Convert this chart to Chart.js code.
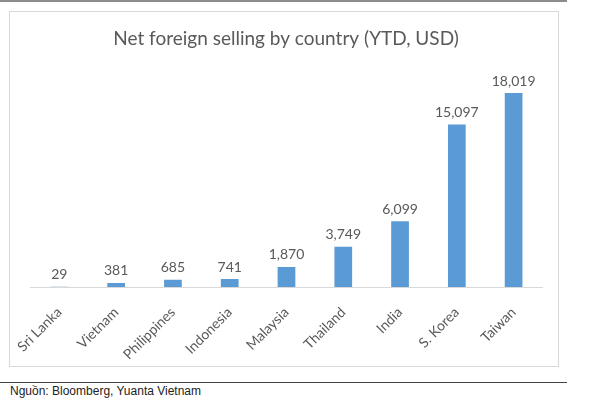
<!DOCTYPE html>
<html>
<head>
<meta charset="utf-8">
<script src="https://cdn.jsdelivr.net/npm/chart.js@4"></script>
<style>
  body { margin: 0; background: #fff; width: 600px; height: 400px; position: relative; overflow: hidden; }
  #topline { position: absolute; left: 0; top: 0; width: 567px; height: 2px; background: #8c8c8c; }
  #box { position: absolute; left: 9px; top: 11px; width: 548px; height: 354px; border: 1px solid #d9d9d9; }
  #botline { position: absolute; left: 0; top: 382px; width: 567px; height: 1px; background: #444; }
  #source { position: absolute; left: 10px; top: 384px; font-family: "Liberation Sans", Arial, sans-serif; font-size: 12px; color: #222; }
</style>
</head>
<body>
<div id="topline"></div>
<div id="box"><canvas id="chart" width="548" height="354"></canvas></div>
<div id="botline"></div>
<div id="source">Nguồn: Bloomberg, Yuanta Vietnam</div>
<script>
var countries = ['Sri Lanka', 'Vietnam', 'Philippines', 'Indonesia', 'Malaysia', 'Thailand', 'India', 'S. Korea', 'Taiwan'];
var selling = [29, 381, 685, 741, 1870, 3749, 6099, 15097, 18019];

// draws the value above each bar
var valueLabels = {
    id: 'valueLabels',
    afterDatasetsDraw: function (chart) {
        var ctx = chart.ctx;
        var meta = chart.getDatasetMeta(0);
        ctx.save();
        ctx.font = '14px Lato, "Open Sans", sans-serif';
        ctx.fillStyle = '#595959';
        ctx.textAlign = 'center';
        ctx.textBaseline = 'bottom';
        meta.data.forEach(function (bar, i) {
            ctx.fillText(selling[i].toLocaleString('en-US'), bar.x, bar.y - 5);
        });
        ctx.restore();
    }
};

new Chart(document.getElementById('chart'), {
    type: 'bar',
    data: {
        labels: countries,
        datasets: [{
            data: selling,
            backgroundColor: '#5b9bd5',
            barPercentage: 0.6,
            categoryPercentage: 0.52
        }]
    },
    options: {
        responsive: false,
        animation: false,
        layout: { padding: { left: 20, right: 16, top: 0, bottom: 0 } },
        plugins: {
            legend: { display: false },
            tooltip: { enabled: false },
            title: {
                display: true,
                text: 'Net foreign selling by country (YTD, USD)',
                color: '#595959',
                font: { family: 'Lato, "Open Sans", sans-serif', size: 19, weight: 'normal' },
                padding: { top: 15, bottom: 22 }
            }
        },
        scales: {
            x: {
                grid: { display: false },
                border: { color: '#d9d9d9' },
                ticks: {
                    color: '#595959',
                    font: { family: 'Lato, "Open Sans", sans-serif', size: 14 },
                    minRotation: 45,
                    maxRotation: 45,
                    padding: 9
                },
                afterFit: function (scale) { scale.height = 79; }
            },
            y: {
                display: false,
                min: 0,
                max: 20000
            }
        }
    },
    plugins: [valueLabels]
});
</script>
</body>
</html>
